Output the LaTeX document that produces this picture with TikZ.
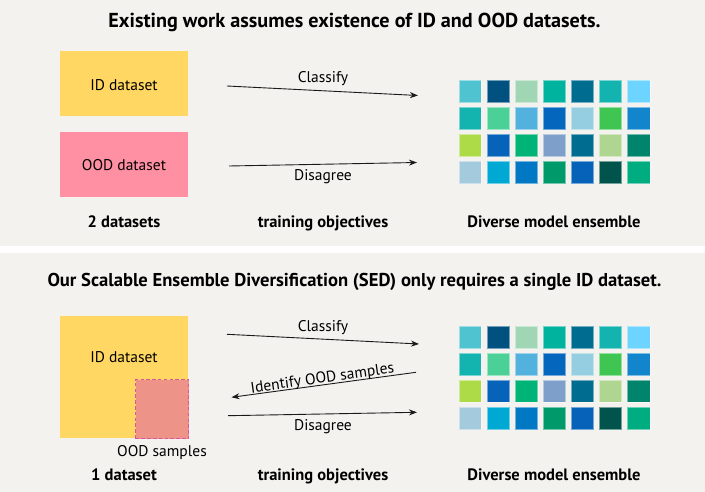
\documentclass[tikz,border=0pt]{standalone}
\usepackage{fontspec}
\setmainfont{PT Sans}
\usetikzlibrary{arrows.meta}
\definecolor{panel}{HTML}{F3F2EE}
\definecolor{idcol}{HTML}{FFD762}
\definecolor{oodcol}{HTML}{FF8FA3}
\definecolor{oodsamp}{HTML}{EE9388}
\definecolor{oodline}{HTML}{D9579F}
\definecolor{arrcol}{HTML}{1A1A1A}
% grid colours
\definecolor{ga1}{HTML}{4FC3CF}\definecolor{ga2}{HTML}{005180}\definecolor{ga3}{HTML}{A1D6B5}\definecolor{ga4}{HTML}{00B39F}\definecolor{ga5}{HTML}{006C8F}\definecolor{ga6}{HTML}{13B3AF}\definecolor{ga7}{HTML}{6DD4FF}
\definecolor{gb1}{HTML}{13B3AF}\definecolor{gb2}{HTML}{4BD197}\definecolor{gb3}{HTML}{52B2DD}\definecolor{gb4}{HTML}{0566BD}\definecolor{gb5}{HTML}{94CEE0}\definecolor{gb6}{HTML}{3FC652}\definecolor{gb7}{HTML}{1385CD}
\definecolor{gc1}{HTML}{ADDB48}\definecolor{gc2}{HTML}{0663B9}\definecolor{gc3}{HTML}{00B477}\definecolor{gc4}{HTML}{7F9FCB}\definecolor{gc5}{HTML}{006C8F}\definecolor{gc6}{HTML}{AED690}\definecolor{gc7}{HTML}{00856C}
\definecolor{gd1}{HTML}{A3CADD}\definecolor{gd2}{HTML}{00A8D4}\definecolor{gd3}{HTML}{0078C4}\definecolor{gd4}{HTML}{009A6A}\definecolor{gd5}{HTML}{0661B8}\definecolor{gd6}{HTML}{00544B}\definecolor{gd7}{HTML}{00AD80}
\tikzset{
  titletext/.style={font=\fontsize{19}{21}\selectfont\bfseries, anchor=base, inner sep=0pt},
  labeltext/.style={font=\fontsize{15.5}{17}\selectfont, anchor=base, inner sep=0pt},
  captext/.style={font=\fontsize{16.5}{18}\selectfont\bfseries, anchor=base, inner sep=0pt},
  databox/.style={rectangle, draw=none, inner sep=0pt, anchor=north west},
  cell/.style={rectangle, minimum width=22.5pt, minimum height=22.5pt, inner sep=0pt, anchor=north west, draw=white, draw opacity=0.45, line width=0.7pt},
  objarrow/.style={draw=arrcol, line width=0.9pt, -{Stealth[length=8pt,width=6pt]}},
}
\begin{document}
\begin{tikzpicture}[x=1pt,y=-1pt]
\useasboundingbox (0,0) rectangle (705,492);
\fill[white] (0,0) rectangle (705,492);
\fill[panel] (0,0) rectangle (705,246);
\fill[panel] (0,253) rectangle (705,492);

% ---------- top panel ----------
\node[titletext, font=\fontsize{20.2}{22}\selectfont\bfseries] (t1) at (354.5,28) {Existing work assumes existence of ID and OOD datasets.};
\node[databox, fill=idcol, minimum width=128pt, minimum height=65pt] (id1) at (60,51) {};
\node[labeltext] (id1l) at (124,90.5) {ID dataset};
\node[databox, fill=oodcol, minimum width=128pt, minimum height=65pt] (ood1) at (60,132) {};
\node[labeltext] (ood1l) at (124,170.5) {OOD dataset};

\foreach \r/\y in {a/80,b/107,c/134,d/161}{
  \foreach \c in {1,...,7}{
    \node[cell, fill=g\r\c] (top\r\c) at ({458.6+28.07*(\c-1)},\y) {};
  }
}
\coordinate (c1s) at (227,86);
\coordinate (c1e) at (418,95.5);
\draw[objarrow] (c1s) -- (c1e);
\node[labeltext] (c1l) at (323,82.5) {Classify};
\coordinate (d1s) at (229,166);
\coordinate (d1e) at (417,162.5);
\draw[objarrow] (d1s) -- (d1e);
\node[labeltext] (d1l) at (323,181) {Disagree};

\node[captext] (cap1a) at (124,228) {2 datasets};
\node[captext] (cap1b) at (323,228) {training objectives};
\node[captext] (cap1c) at (554,228) {Diverse model ensemble};

% ---------- bottom panel ----------
\node[titletext, font=\fontsize{18.6}{21}\selectfont\bfseries] (t2) at (354.5,286.5) {Our Scalable Ensemble Diversification (SED) only requires a single ID dataset.};
\node[databox, fill=idcol, minimum width=128pt, minimum height=122pt] (id2) at (60,316) {};
\node[labeltext] (id2l) at (124,362.5) {ID dataset};
\node[databox, fill=oodsamp, draw=oodline, dash pattern=on 3.5pt off 2.3pt, line width=1.3pt, minimum width=53pt, minimum height=59pt] (oods) at (135,379) {};
\node[labeltext] (oodsl) at (162,456) {OOD samples};

\foreach \r/\y in {a/325.7,b/352.7,c/379.5,d/406.7}{
  \foreach \c in {1,...,7}{
    \node[cell, fill=g\r\c] (bot\r\c) at ({458.6+28.07*(\c-1)},\y) {};
  }
}
\coordinate (c2s) at (227,334.3);
\coordinate (c2e) at (419,344);
\draw[objarrow] (c2s) -- (c2e);
\node[labeltext] (c2l) at (323,331.5) {Classify};
\coordinate (i2s) at (416,372.3);
\coordinate (i2e) at (231.5,397.3);
\draw[objarrow] (i2s) -- (i2e);
\node[labeltext, rotate=8] (i2l) at (323,383) {Identify OOD samples};
\coordinate (d2s) at (228,415.7);
\coordinate (d2e) at (417,412.3);
\draw[objarrow] (d2s) -- (d2e);
\node[labeltext] (d2l) at (323,430) {Disagree};

\node[captext] (cap2a) at (124,480.5) {1 dataset};
\node[captext] (cap2b) at (323,480.5) {training objectives};
\node[captext] (cap2c) at (554,480.5) {Diverse model ensemble};
\end{tikzpicture}
\end{document}
